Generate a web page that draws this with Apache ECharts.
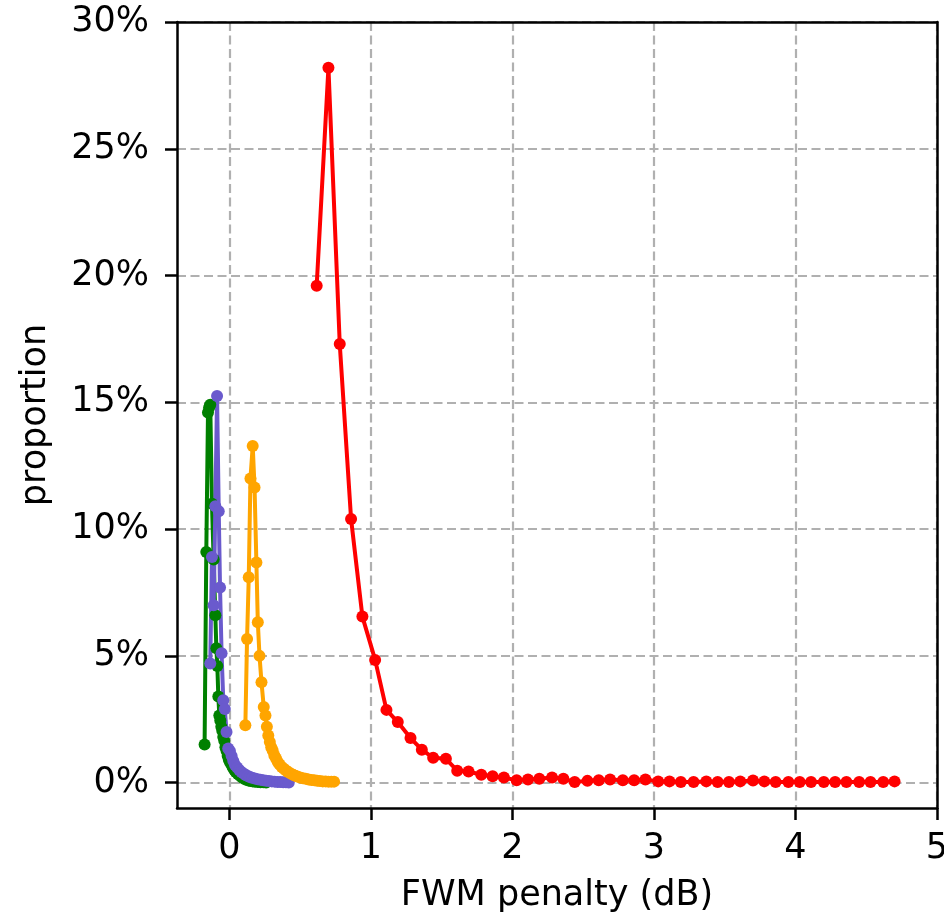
<!DOCTYPE html>
<html>
<head>
<meta charset="utf-8">
<script src="https://cdn.jsdelivr.net/npm/echarts@6/dist/echarts.min.js"></script>
<style>
  html, body { margin: 0; padding: 0; background: #fff; }
  #chart { width: 944px; height: 914px; }
</style>
</head>
<body>
<div id="chart"></div>
<script>
'use strict';

// FWM penalty (dB) and proportion (%) for each curve
const greenX = [-0.175, -0.163, -0.151, -0.143, -0.135, -0.123, -0.111, -0.099, -0.092, -0.085, -0.078, -0.071, -0.064, -0.057, -0.050, -0.043, -0.036, -0.028, -0.020, -0.012, -0.004, 0.005, 0.015, 0.025, 0.035, 0.045, 0.06, 0.075, 0.09, 0.105, 0.12, 0.135, 0.15, 0.165, 0.18, 0.2, 0.22, 0.24, 0.26];
const greenY = [1.5, 9.1, 14.6, 14.8, 14.9, 11.0, 8.8, 6.6, 5.3, 4.6, 3.4, 2.65, 2.45, 2.2, 2.05, 1.8, 1.65, 1.4, 1.25, 1.05, 0.9, 0.8, 0.7, 0.6, 0.5, 0.42, 0.34, 0.27, 0.2, 0.15, 0.11, 0.08, 0.06, 0.05, 0.04, 0.03, 0.02, 0.02, 0.01];

const purpleX = [-0.135, -0.123, -0.111, -0.099, -0.087, -0.075, -0.066, -0.055, -0.043, -0.032, -0.020, -0.008, 0.004, 0.016, 0.028, 0.04, 0.055, 0.07, 0.085, 0.1, 0.115, 0.13, 0.145, 0.16, 0.18, 0.2, 0.22, 0.24, 0.26, 0.28, 0.3, 0.32, 0.34, 0.36, 0.38, 0.4, 0.42];
const purpleY = [4.7, 8.9, 7.0, 10.9, 15.25, 10.7, 7.7, 5.1, 3.25, 2.9, 2.0, 1.35, 1.25, 1.05, 0.85, 0.7, 0.6, 0.5, 0.42, 0.36, 0.3, 0.26, 0.22, 0.19, 0.16, 0.13, 0.11, 0.09, 0.07, 0.06, 0.05, 0.04, 0.03, 0.03, 0.02, 0.02, 0.01];

const orangeX = [0.113, 0.125, 0.137, 0.149, 0.165, 0.178, 0.191, 0.201, 0.213, 0.227, 0.243, 0.255, 0.265, 0.275, 0.286, 0.296, 0.306, 0.318, 0.33, 0.342, 0.355, 0.37, 0.385, 0.4, 0.415, 0.433, 0.45, 0.465, 0.48, 0.5, 0.52, 0.54, 0.56, 0.58, 0.6, 0.62, 0.64, 0.66, 0.68, 0.7, 0.72, 0.74];
const orangeY = [2.26, 5.67, 8.1, 12.0, 13.28, 11.64, 8.68, 6.33, 5.0, 3.96, 2.98, 2.65, 2.2, 1.86, 1.6, 1.4, 1.27, 1.07, 0.95, 0.81, 0.72, 0.62, 0.55, 0.48, 0.42, 0.36, 0.31, 0.27, 0.24, 0.2, 0.17, 0.15, 0.12, 0.1, 0.09, 0.07, 0.06, 0.05, 0.05, 0.04, 0.04, 0.04];

const redX = [0.617, 0.70, 0.78, 0.86, 0.94, 1.03, 1.11, 1.19, 1.28, 1.36, 1.44, 1.53, 1.61, 1.69, 1.78, 1.86, 1.94, 2.03, 2.11, 2.19, 2.28, 2.36, 2.44, 2.53, 2.61, 2.69, 2.78, 2.86, 2.94, 3.03, 3.11, 3.19, 3.28, 3.37, 3.45, 3.53, 3.61, 3.70, 3.78, 3.86, 3.95, 4.03, 4.11, 4.20, 4.28, 4.36, 4.45, 4.53, 4.62, 4.70];
const redY = [19.6, 28.2, 17.3, 10.4, 6.55, 4.84, 2.87, 2.39, 1.76, 1.30, 0.98, 0.94, 0.47, 0.44, 0.31, 0.25, 0.20, 0.09, 0.12, 0.15, 0.20, 0.15, 0.03, 0.07, 0.09, 0.12, 0.09, 0.09, 0.12, 0.05, 0.05, 0.03, 0.03, 0.05, 0.03, 0.03, 0.05, 0.08, 0.05, 0.03, 0.03, 0.03, 0.03, 0.03, 0.03, 0.03, 0.03, 0.03, 0.03, 0.05];

const xTicks = [0, 1, 2, 3, 4, 5];
const yTicks = [0, 5, 10, 15, 20, 25, 30];

const font = 'DejaVu Sans';
const fontSize = 35;

function pairs(xs, ys) {
    return xs.map((x, i) => [x, ys[i]]);
}

function curve(name, color, xs, ys) {
    return {
        name: name,
        type: 'line',
        data: pairs(xs, ys),
        symbol: 'circle',
        symbolSize: 12,
        showSymbol: true,
        animation: false,
        lineStyle: { color: color, width: 4 },
        itemStyle: { color: color }
    };
}

const myChart = echarts.init(document.getElementById('chart'));

const spine = { show: true, onZero: false, lineStyle: { color: '#000', width: 2.5 } };
const tick = { show: true, length: 12, lineStyle: { color: '#000', width: 2.5 } };
const grid_line = { show: true, lineStyle: { color: '#b0b0b0', width: 2.2, type: [9, 4.5] } };
const label = { fontFamily: font, fontSize: fontSize, color: '#000' };

// top/right spines: plain axes with only the line
function frame(type, position, min, max) {
    return {
        type: type, position: position, min: min, max: max,
        axisLine: spine, axisTick: { show: false },
        axisLabel: { show: false }, splitLine: { show: false }
    };
}

myChart.setOption({
    backgroundColor: '#fff',
    grid: { left: 177, right: 7, top: 22, bottom: 106, outerBoundsMode: 'none', containLabel: false },
    xAxis: [{
        type: 'value',
        min: -0.37,
        max: 5.0,
        name: 'FWM penalty (dB)',
        nameLocation: 'middle',
        nameGap: 70,
        nameTextStyle: label,
        axisLine: spine,
        axisTick: Object.assign({}, tick, { customValues: xTicks }),
        splitLine: grid_line,
        axisLabel: Object.assign({ customValues: xTicks, margin: 23 }, label)
    }, frame('value', 'top', -0.37, 5.0)],
    yAxis: [{
        type: 'value',
        min: -1,
        max: 30,
        name: 'proportion',
        nameLocation: 'middle',
        nameGap: 124,
        nameTextStyle: label,
        axisLine: spine,
        axisTick: Object.assign({}, tick, { customValues: yTicks }),
        splitLine: grid_line,
        axisLabel: Object.assign({
            customValues: yTicks,
            margin: 28,
            formatter: v => v + '%'
        }, label)
    }, frame('value', 'right', -1, 30)],
    series: [
        curve('green', '#008000', greenX, greenY),
        curve('purple', '#6a5acd', purpleX, purpleY),
        curve('orange', '#ffa500', orangeX, orangeY),
        curve('red', '#ff0000', redX, redY)
    ]
});
</script>
</body>
</html>
